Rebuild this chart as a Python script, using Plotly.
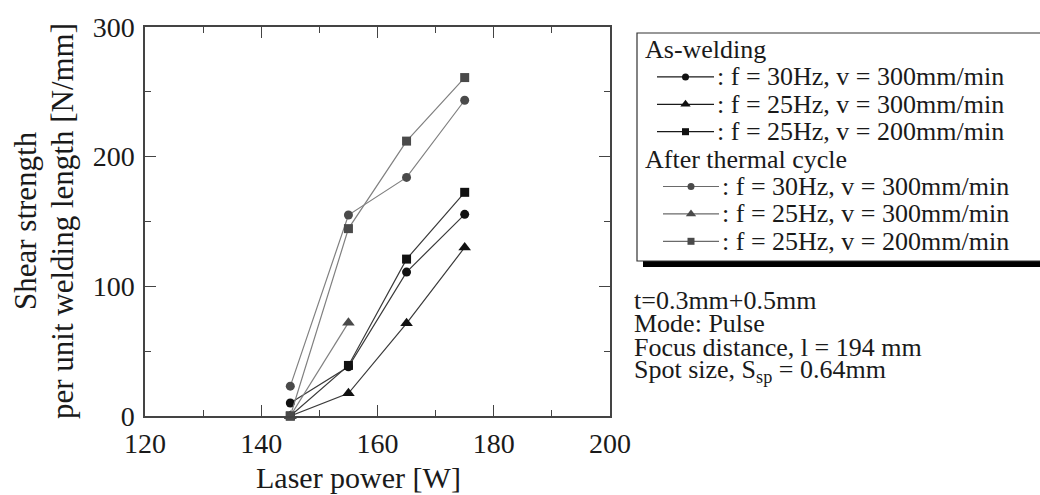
import plotly.graph_objects as go

W, H = 1040, 495
FONT = "Liberation Serif, Times New Roman, serif"

# ---- data ----
power = [145, 155, 165, 175]
power_tc_tri = [145, 155]
aw_30hz_300 = [10, 38, 111, 155.5]
aw_25hz_300 = [0, 17.5, 71.5, 130]
aw_25hz_200 = [0, 39, 121, 172.5]
tc_30hz_300 = [23, 155, 184, 243.5]
tc_25hz_300 = [0, 72]
tc_25hz_200 = [0, 144.5, 212, 261]

x_ticks = [120, 140, 160, 180, 200]
y_ticks = [0, 100, 200, 300]
x_title = "Laser power [W]"
y_title_lines = ["Shear strength", "per unit welding length [N/mm]"]
legend_groups = ["As-welding", "After thermal cycle"]
legend_labels = ["f = 30Hz, v = 300mm/min", "f = 25Hz, v = 300mm/min", "f = 25Hz, v = 200mm/min"]
symbols = ["circle", "triangle-up", "square"]
conditions = ["t=0.3mm+0.5mm", "Mode: Pulse", "Focus distance, l = 194 mm",
              "Spot size, S<sub>sp</sub> = 0.64mm"]

BLACK_M, BLACK_L = "#111111", "#3a3a3a"
GRAY_M, GRAY_L = "#4a4a4a", "#808080"
msize = {"circle": 9, "triangle-up": 11, "square": 9}
lsize = {"circle": 7, "triangle-up": 9, "square": 7}

fig = go.Figure()

series = [
    (power, aw_30hz_300, "circle", BLACK_M, BLACK_L),
    (power, aw_25hz_300, "triangle-up", BLACK_M, BLACK_L),
    (power, aw_25hz_200, "square", BLACK_M, BLACK_L),
    (power, tc_30hz_300, "circle", GRAY_M, GRAY_L),
    (power_tc_tri, tc_25hz_300, "triangle-up", GRAY_M, GRAY_L),
    (power, tc_25hz_200, "square", GRAY_M, GRAY_L),
]
for xs, ys, sym, mc, lc in series:
    fig.add_trace(go.Scatter(
        x=xs, y=ys, mode="lines+markers", cliponaxis=False, showlegend=False,
        line=dict(color=lc, width=1.2),
        marker=dict(symbol=sym, size=msize[sym], color=mc, line=dict(width=0)),
        xaxis="x", yaxis="y"))

# ---- manual legend (pixel overlay axis) ----
row_y0, row_dy = 49.5, 27.4
shapes = []
annotations = []
TXT = "#1a1a1a"
shapes.append(dict(type="rect", xref="x2", yref="y2", x0=643, x1=1060, y0=39, y1=267,
                   fillcolor="#000000", line=dict(width=0), layer="below"))
shapes.append(dict(type="rect", xref="x2", yref="y2", x0=637, x1=1055, y0=33, y1=261,
                   fillcolor="white", line=dict(color="#333333", width=1.2), layer="below"))

for g, gname in enumerate(legend_groups):
    base = g * 4
    annotations.append(dict(xref="x2", yref="y2", x=643, y=row_y0 + base * row_dy,
                            text=gname, showarrow=False, xanchor="left", yanchor="middle",
                            font=dict(family=FONT, size=26, color=TXT)))
    mc, lc = (BLACK_M, "#1a1a1a") if g == 0 else (GRAY_M, "#6a6a6a")
    xl0, xl1 = (657, 714) if g == 0 else (663, 719)
    for i, lab in enumerate(legend_labels):
        yy = row_y0 + (base + 1 + i) * row_dy
        fig.add_trace(go.Scatter(x=[xl0, xl1], y=[yy, yy], mode="lines", showlegend=False,
                                 line=dict(color=lc, width=1.2), xaxis="x2", yaxis="y2",
                                 hoverinfo="skip"))
        fig.add_trace(go.Scatter(x=[(xl0 + xl1) / 2], y=[yy], mode="markers", showlegend=False,
                                 marker=dict(symbol=symbols[i], size=lsize[symbols[i]], color=mc,
                                             line=dict(width=0)),
                                 xaxis="x2", yaxis="y2", hoverinfo="skip"))
        annotations.append(dict(xref="x2", yref="y2", x=xl1 + 1, y=yy,
                                text=": " + lab, showarrow=False, xanchor="left", yanchor="middle",
                                font=dict(family=FONT, size=26, color=TXT)))

for i, t in enumerate(conditions):
    annotations.append(dict(xref="x2", yref="y2", x=632, y=300 + i * 23.5,
                            text=t, showarrow=False, xanchor="left", yanchor="middle",
                            font=dict(family=FONT, size=26, color=TXT)))

# axis titles
annotations.append(dict(xref="x2", yref="y2", x=358, y=477, text=x_title,
                        showarrow=False, xanchor="center", yanchor="middle",
                        font=dict(family=FONT, size=30, color=TXT)))
for j, (line, xc) in enumerate(zip(y_title_lines, [25, 62])):
    annotations.append(dict(xref="x2", yref="y2", x=xc, y=221, text=line,
                            textangle=-90, showarrow=False, xanchor="center", yanchor="middle",
                            font=dict(family=FONT, size=31, color=TXT)))

axis_common = dict(showline=True, linecolor="#444444", linewidth=1.5, mirror="allticks",
                   ticks="inside", ticklen=11, tickwidth=1.3, tickcolor="#444444",
                   showgrid=False, zeroline=False,
                   tickfont=dict(family=FONT, size=28, color=TXT))

fig.update_layout(
    width=W, height=H,
    margin=dict(l=0, r=0, t=0, b=0, pad=0, autoexpand=False),
    paper_bgcolor="white", plot_bgcolor="rgba(0,0,0,0)",
    xaxis=dict(domain=[145 / W, 610 / W], range=[120, 200], tickvals=x_ticks,
               ticktext=[str(v) for v in x_ticks], anchor="y", ticklabelstandoff=2,
               minor=dict(ticks="inside", ticklen=6, dtick=10, tickcolor="#444444", tickwidth=1.2),
               **axis_common),
    yaxis=dict(domain=[(H - 416) / H, (H - 27) / H], range=[0, 300], tickvals=y_ticks,
               ticktext=[str(v) for v in y_ticks], anchor="x", ticklabelstandoff=3,
               minor=dict(ticks="inside", ticklen=6, dtick=50, tickcolor="#444444", tickwidth=1.2),
               **axis_common),
    xaxis2=dict(domain=[0, 1], range=[0, W], visible=False, anchor="y2", fixedrange=True),
    yaxis2=dict(domain=[0, 1], range=[H, 0], visible=False, anchor="x2", fixedrange=True),
    shapes=shapes,
    annotations=annotations,
)

fig.write_html("out.html")
